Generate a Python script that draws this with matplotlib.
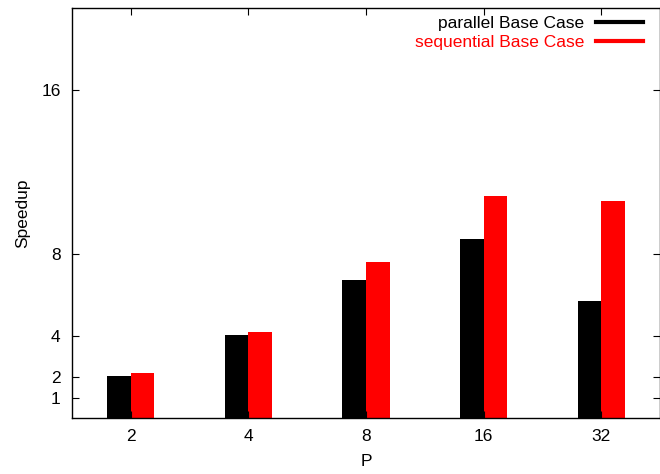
import matplotlib
matplotlib.use("Agg")
import matplotlib.pyplot as plt
from matplotlib.lines import Line2D
import numpy as np

plt.rcParams['font.family'] = ['Liberation Sans', 'DejaVu Sans']

categories = ['2', '4', '8', '16', '32']
parallel = [2.06, 4.06, 6.75, 8.75, 5.72]
sequential = [2.21, 4.21, 7.62, 10.84, 10.6]
yticks = [1, 2, 4, 8, 16]

fs = 12.5
fig = plt.figure(figsize=(6.6, 4.74), dpi=100)
ax = fig.add_axes([71.7/660, 1-418.3/474, (660.3-71.7)/660, (418.3-8.3)/474])

x = np.arange(len(categories))
w = 0.2
ax.bar(x - w/2, parallel, width=w, color='black', linewidth=0)
ax.bar(x + w/2, sequential, width=w, color='#ff0000', linewidth=0)

ax.set_xlim(-0.5, 4.5)
ax.set_ylim(0, 20)
ax.set_xticks(x)
ax.set_xticklabels(categories)
ax.set_yticks(yticks)
ax.set_yticklabels([str(t) for t in yticks])
ax.tick_params(direction='in', length=5, width=0.8, labelsize=fs, top=True, right=True, pad=8, colors='black')
for s in ax.spines.values():
    s.set_linewidth(1.0)

ax.set_xlabel('P', fontsize=fs, labelpad=7)
ax.set_ylabel('Speedup', fontsize=fs, labelpad=8)

handles = [Line2D([], [], color='black', lw=3), Line2D([], [], color='#ff0000', lw=3)]
ax.legend(handles, ['parallel Base Case', 'sequential Base Case'], loc='upper right',
          markerfirst=False, frameon=False, fontsize=fs, labelcolor=['black', '#ff0000'],
          handlelength=2.7, handletextpad=0.7, borderaxespad=0.0, labelspacing=0.2,
          bbox_to_anchor=(0.983, 0.998))

fig.savefig('out.png', dpi=100)
